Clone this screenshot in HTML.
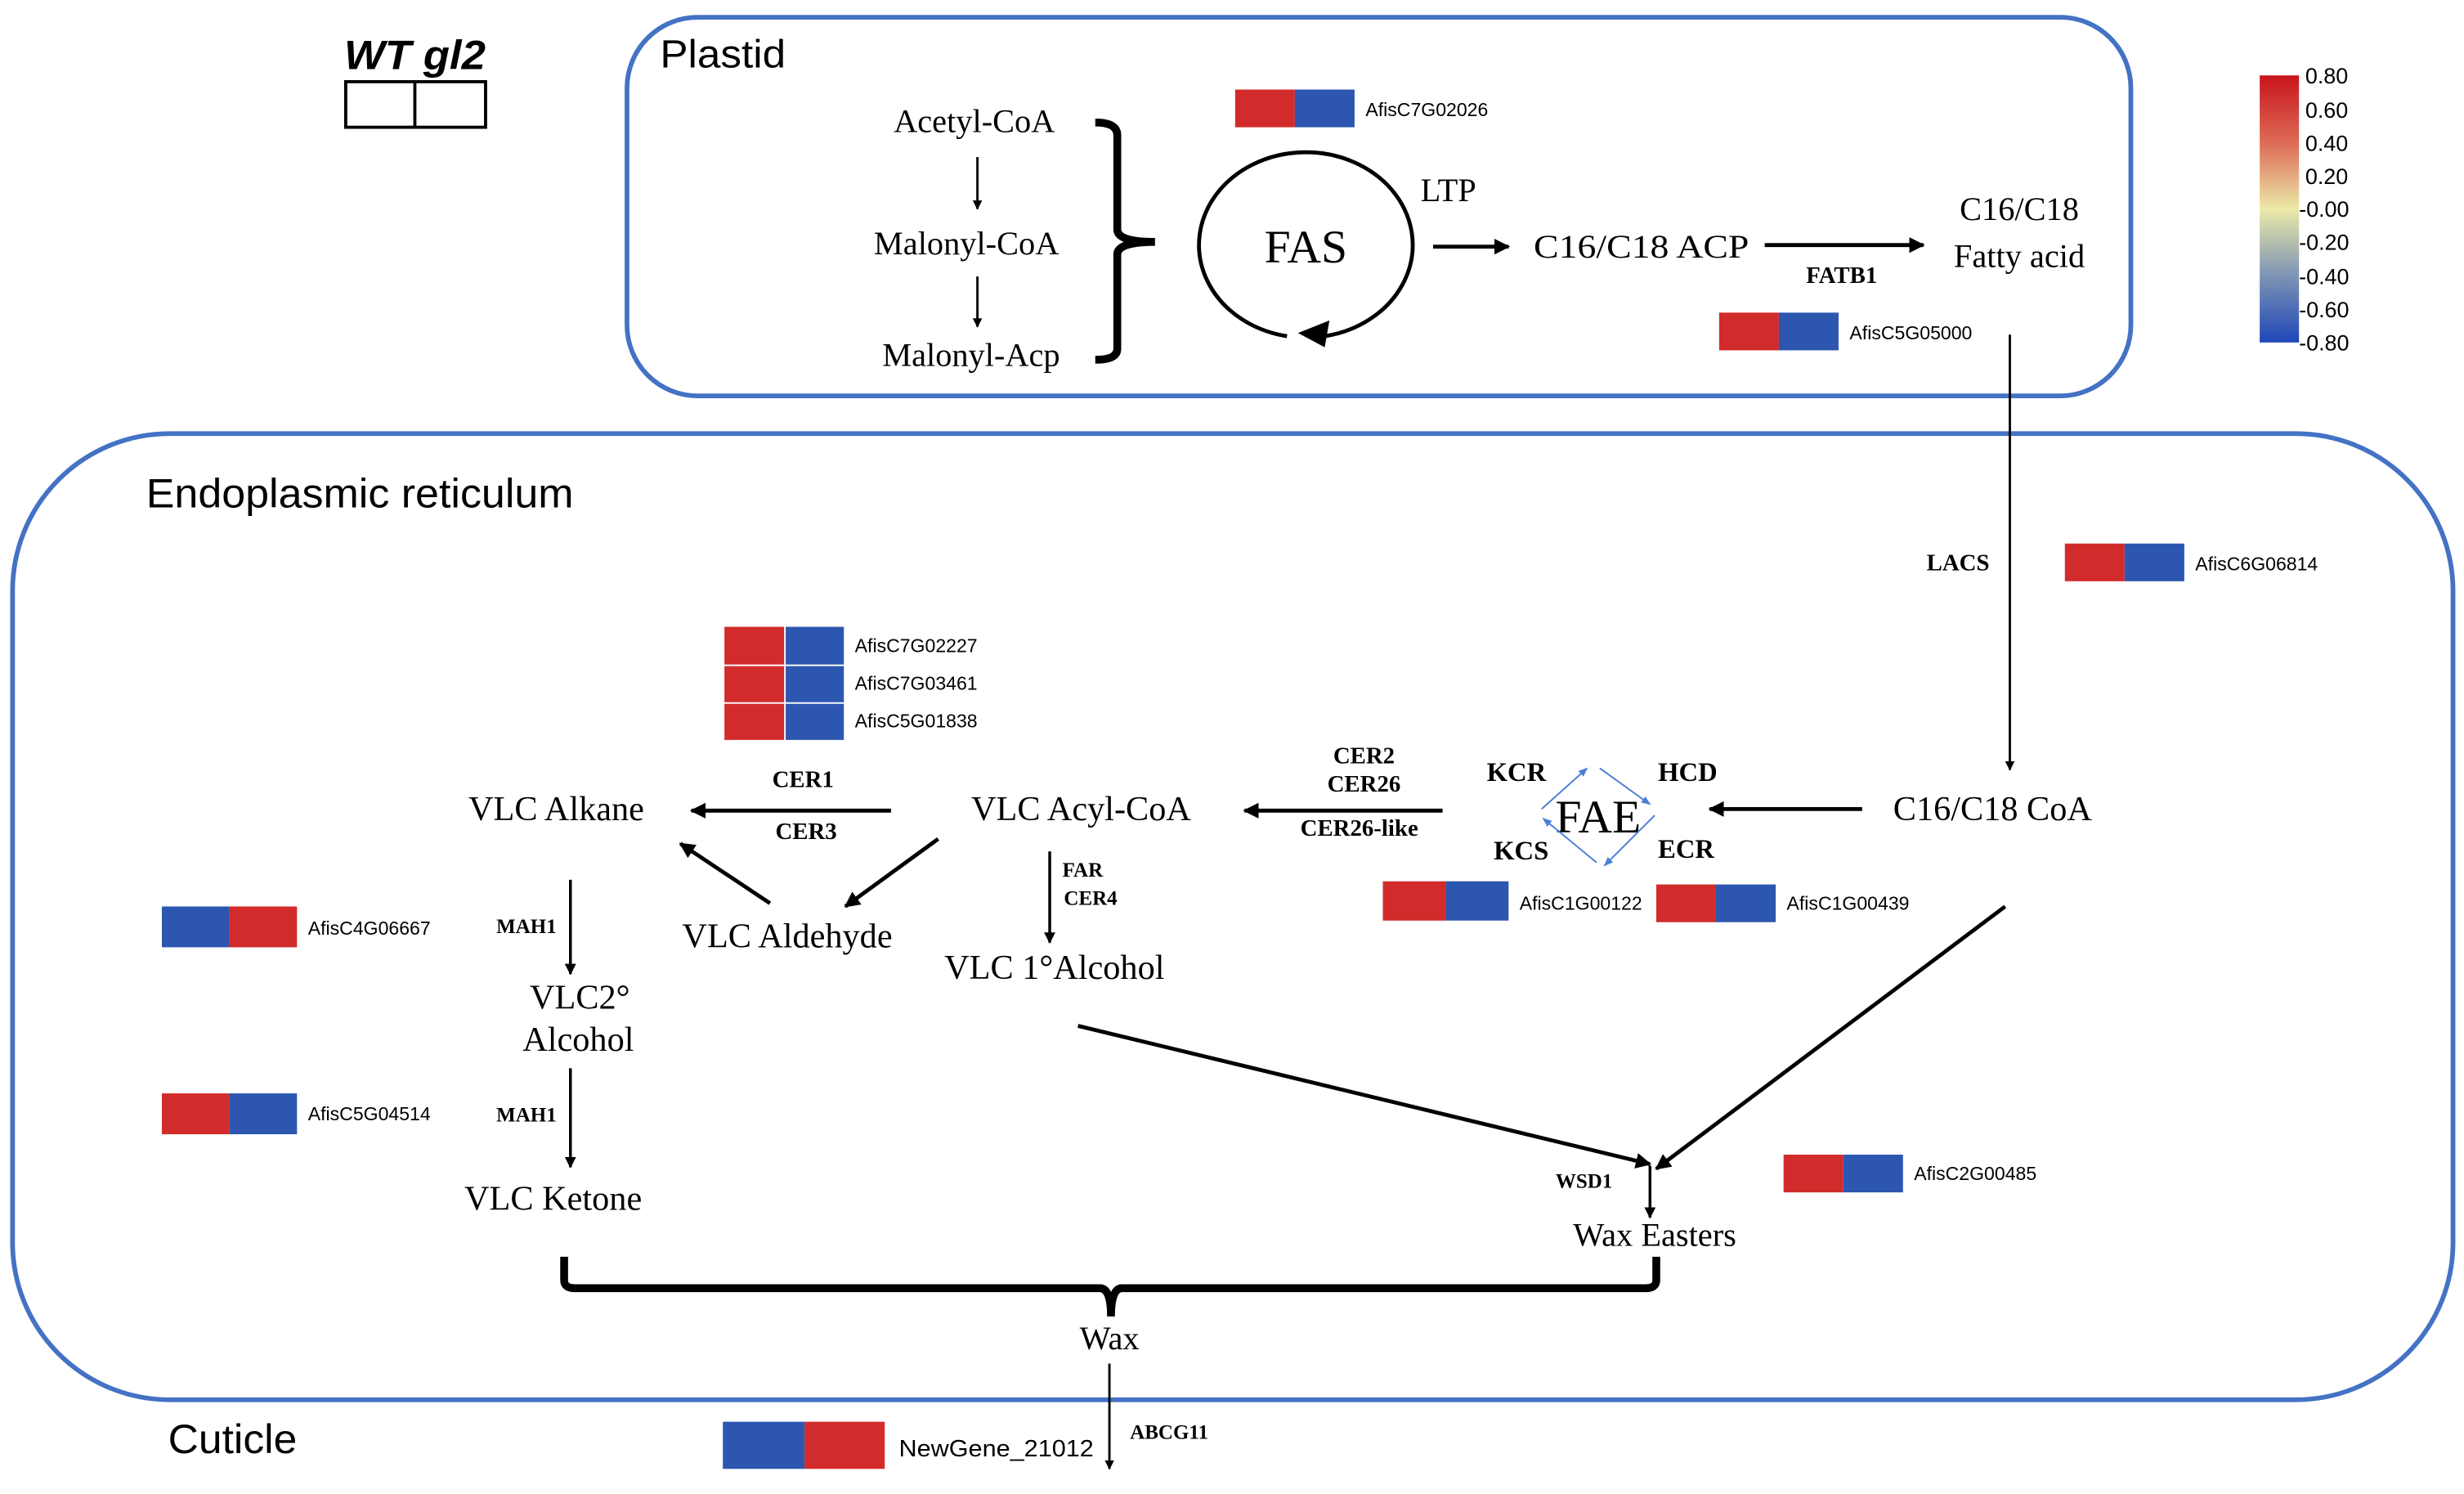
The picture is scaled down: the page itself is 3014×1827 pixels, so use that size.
<!DOCTYPE html>
<html><head><meta charset="utf-8"><style>
html,body{margin:0;padding:0;background:#fff}
svg{display:block}
.s{font-family:"Liberation Serif",serif;fill:#000}
.a{font-family:"Liberation Sans",sans-serif;fill:#000}
.b{font-family:"Liberation Serif",serif;font-weight:bold;fill:#000}
</style></head><body>
<svg width="3014" height="1827" viewBox="0 0 1568 951" preserveAspectRatio="none" xmlns="http://www.w3.org/2000/svg">
<defs>
<marker id="ar" viewBox="0 0 10 10" refX="9" refY="5" markerWidth="4" markerHeight="4" orient="auto"><path d="M0,0L10,5L0,10z" fill="#000"/></marker>
<marker id="ab" viewBox="0 0 10 10" refX="9" refY="5" markerWidth="6" markerHeight="6" orient="auto"><path d="M0,1L10,5L0,9z" fill="#4a7fd6"/></marker>
<linearGradient id="cb" x1="0" y1="0" x2="0" y2="1">
<stop offset="0" stop-color="#c8141c"/><stop offset="0.25" stop-color="#dd6a55"/><stop offset="0.5" stop-color="#ece9a8"/><stop offset="0.75" stop-color="#7d94b4"/><stop offset="1" stop-color="#1f46b8"/></linearGradient>
</defs>
<rect x="399" y="11" width="957" height="241" rx="45" fill="none" stroke="#4472c4" stroke-width="3"/>
<rect x="8" y="276" width="1553" height="615" rx="100" fill="none" stroke="#4472c4" stroke-width="3"/>
<text x="219" y="44" class="a" font-size="26" font-weight="bold" font-style="italic" textLength="90" lengthAdjust="spacingAndGlyphs">WT gl2</text>
<rect x="220" y="52" width="89" height="29" fill="none" stroke="#000" stroke-width="2"/>
<line x1="264" y1="52" x2="264" y2="81" stroke="#000" stroke-width="2"/>
<text x="420" y="43" class="a" font-size="25" textLength="80" lengthAdjust="spacingAndGlyphs">Plastid</text>
<text x="93" y="323" class="a" font-size="26" textLength="272" lengthAdjust="spacingAndGlyphs">Endoplasmic reticulum</text>
<text x="107" y="925" class="a" font-size="26" textLength="82" lengthAdjust="spacingAndGlyphs">Cuticle</text>
<text x="620" y="84" class="s" font-size="21" text-anchor="middle">Acetyl-CoA</text>
<text x="615" y="162" class="s" font-size="21" text-anchor="middle">Malonyl-CoA</text>
<text x="618" y="233" class="s" font-size="21" text-anchor="middle">Malonyl-Acp</text>
<line x1="622" y1="100" x2="622" y2="133" stroke="#000" stroke-width="1.5" marker-end="url(#ar)"/>
<line x1="622" y1="176" x2="622" y2="208" stroke="#000" stroke-width="1.5" marker-end="url(#ar)"/>
<path d="M697,78 Q711,78 711,86 L711,146 Q711,154 735,154 Q711,154 711,162 L711,222 Q711,229 697,229" fill="none" stroke="#000" stroke-width="5"/>
<rect x="786" y="57" width="38" height="24" fill="#d22b2b"/><rect x="824" y="57" width="38" height="24" fill="#2c56b0"/>
<text x="869" y="74" class="a" font-size="12">AfisC7G02026</text>
<path d="M819,214 A68,59 0 1 1 843,214" fill="none" stroke="#000" stroke-width="2.5"/>
<path d="M846,204 L826,212 L843,221 z" fill="#000"/>
<text x="831" y="167" class="s" font-size="30" text-anchor="middle">FAS</text>
<text x="904" y="128" class="s" font-size="21">LTP</text>
<line x1="912" y1="157" x2="960" y2="157" stroke="#000" stroke-width="2.5" marker-end="url(#ar)"/>
<text x="976" y="164" class="s" font-size="21" textLength="137" lengthAdjust="spacingAndGlyphs">C16/C18 ACP</text>
<line x1="1123" y1="156" x2="1224" y2="156" stroke="#000" stroke-width="2.5" marker-end="url(#ar)"/>
<text x="1172" y="180" class="b" font-size="15" text-anchor="middle">FATB1</text>
<text x="1285" y="140" class="s" font-size="21" text-anchor="middle">C16/C18</text>
<text x="1285" y="170" class="s" font-size="21" text-anchor="middle">Fatty acid</text>
<rect x="1094" y="199" width="38" height="24" fill="#d22b2b"/><rect x="1132" y="199" width="38" height="24" fill="#2c56b0"/>
<text x="1177" y="216" class="a" font-size="12">AfisC5G05000</text>
<rect x="1438" y="48" width="25" height="170" fill="url(#cb)"/>
<g class="a" font-size="14">
<text x="1467" y="53">0.80</text><text x="1467" y="75">0.60</text><text x="1467" y="96">0.40</text><text x="1467" y="117">0.20</text><text x="1463" y="138">-0.00</text><text x="1463" y="159">-0.20</text><text x="1463" y="181">-0.40</text><text x="1463" y="202">-0.60</text><text x="1463" y="223">-0.80</text>
</g>
<line x1="1279" y1="213" x2="1279" y2="490" stroke="#000" stroke-width="1.5" marker-end="url(#ar)"/>
<text x="1246" y="363" class="b" font-size="15" text-anchor="middle">LACS</text>
<rect x="1314" y="346" width="38" height="24" fill="#d22b2b"/><rect x="1352" y="346" width="38" height="24" fill="#2c56b0"/>
<text x="1397" y="363" class="a" font-size="12">AfisC6G06814</text>
<g>
<rect x="461" y="399" width="38" height="24" fill="#d22b2b"/><rect x="500" y="399" width="37" height="24" fill="#2c56b0"/>
<rect x="461" y="424" width="38" height="23" fill="#d22b2b"/><rect x="500" y="424" width="37" height="23" fill="#2c56b0"/>
<rect x="461" y="448" width="38" height="23" fill="#d22b2b"/><rect x="500" y="448" width="37" height="23" fill="#2c56b0"/>
</g>
<g class="a" font-size="12"><text x="544" y="415">AfisC7G02227</text><text x="544" y="439">AfisC7G03461</text><text x="544" y="463">AfisC5G01838</text></g>
<text x="354" y="522" class="s" font-size="22" text-anchor="middle">VLC Alkane</text>
<line x1="567" y1="516" x2="440" y2="516" stroke="#000" stroke-width="2.5" marker-end="url(#ar)"/>
<text x="511" y="501" class="b" font-size="15" text-anchor="middle">CER1</text>
<text x="513" y="534" class="b" font-size="15" text-anchor="middle">CER3</text>
<text x="688" y="522" class="s" font-size="22" text-anchor="middle">VLC Acyl-CoA</text>
<line x1="918" y1="516" x2="792" y2="516" stroke="#000" stroke-width="2.5" marker-end="url(#ar)"/>
<g class="b" font-size="15" text-anchor="middle"><text x="868" y="486">CER2</text><text x="868" y="504">CER26</text><text x="865" y="532">CER26-like</text></g>
<text x="1017" y="530" class="s" font-size="30" text-anchor="middle">FAE</text>
<g class="b" font-size="17" text-anchor="middle"><text x="965" y="497">KCR</text><text x="1074" y="497">HCD</text><text x="968" y="547">KCS</text><text x="1073" y="546">ECR</text></g>
<g stroke="#4a7fd6" stroke-width="1" fill="none">
<line x1="981" y1="515" x2="1010" y2="489" marker-end="url(#ab)"/>
<line x1="1018" y1="489" x2="1050" y2="512" marker-end="url(#ab)"/>
<line x1="1053" y1="519" x2="1021" y2="551" marker-end="url(#ab)"/>
<line x1="1016" y1="549" x2="982" y2="521" marker-end="url(#ab)"/>
</g>
<line x1="1185" y1="515" x2="1088" y2="515" stroke="#000" stroke-width="2.5" marker-end="url(#ar)"/>
<text x="1268" y="522" class="s" font-size="22" text-anchor="middle">C16/C18 CoA</text>
<rect x="880" y="561" width="40" height="25" fill="#d22b2b"/><rect x="920" y="561" width="40" height="25" fill="#2c56b0"/>
<text x="967" y="579" class="a" font-size="12">AfisC1G00122</text>
<rect x="1054" y="563" width="38" height="24" fill="#d22b2b"/><rect x="1092" y="563" width="38" height="24" fill="#2c56b0"/>
<text x="1137" y="579" class="a" font-size="12">AfisC1G00439</text>
<line x1="1276" y1="577" x2="1054" y2="744" stroke="#000" stroke-width="2.5" marker-end="url(#ar)"/>
<line x1="686" y1="653" x2="1050" y2="741" stroke="#000" stroke-width="2.5" marker-end="url(#ar)"/>
<line x1="1050" y1="742" x2="1050" y2="775" stroke="#000" stroke-width="1.8" marker-end="url(#ar)"/>
<text x="1008" y="756" class="b" font-size="13" text-anchor="middle">WSD1</text>
<text x="1053" y="793" class="s" font-size="21" text-anchor="middle">Wax Easters</text>
<rect x="1135" y="735" width="38" height="24" fill="#d22b2b"/><rect x="1173" y="735" width="38" height="24" fill="#2c56b0"/>
<text x="1218" y="751" class="a" font-size="12">AfisC2G00485</text>
<text x="501" y="603" class="s" font-size="22" text-anchor="middle">VLC Aldehyde</text>
<text x="671" y="623" class="s" font-size="22" text-anchor="middle">VLC 1°Alcohol</text>
<line x1="597" y1="534" x2="538" y2="577" stroke="#000" stroke-width="2.5" marker-end="url(#ar)"/>
<line x1="490" y1="575" x2="433" y2="537" stroke="#000" stroke-width="2.5" marker-end="url(#ar)"/>
<text x="689" y="558" class="b" font-size="13" text-anchor="middle">FAR</text>
<text x="694" y="576" class="b" font-size="13" text-anchor="middle">CER4</text>
<line x1="668" y1="542" x2="668" y2="600" stroke="#000" stroke-width="1.8" marker-end="url(#ar)"/>
<line x1="363" y1="560" x2="363" y2="620" stroke="#000" stroke-width="1.8" marker-end="url(#ar)"/>
<text x="335" y="594" class="b" font-size="13" text-anchor="middle">MAH1</text>
<text x="369" y="642" class="s" font-size="22" text-anchor="middle">VLC2°</text>
<text x="368" y="669" class="s" font-size="22" text-anchor="middle">Alcohol</text>
<rect x="103" y="577" width="43" height="26" fill="#2c56b0"/><rect x="146" y="577" width="43" height="26" fill="#d22b2b"/>
<text x="196" y="595" class="a" font-size="12">AfisC4G06667</text>
<rect x="103" y="696" width="43" height="26" fill="#d22b2b"/><rect x="146" y="696" width="43" height="26" fill="#2c56b0"/>
<text x="196" y="713" class="a" font-size="12">AfisC5G04514</text>
<text x="335" y="714" class="b" font-size="13" text-anchor="middle">MAH1</text>
<line x1="363" y1="680" x2="363" y2="743" stroke="#000" stroke-width="1.8" marker-end="url(#ar)"/>
<text x="352" y="770" class="s" font-size="22" text-anchor="middle">VLC Ketone</text>
<path d="M359,800 L359,815 Q359,820 366,820 L700,820 Q707,820 707,838 Q707,820 714,820 L1047,820 Q1054,820 1054,815 L1054,800" fill="none" stroke="#000" stroke-width="5"/>
<text x="706" y="859" class="s" font-size="21" text-anchor="middle">Wax</text>
<line x1="706" y1="868" x2="706" y2="935" stroke="#000" stroke-width="1.5" marker-end="url(#ar)"/>
<text x="744" y="916" class="b" font-size="13" text-anchor="middle">ABCG11</text>
<rect x="460" y="905" width="52" height="30" fill="#2c56b0"/><rect x="512" y="905" width="51" height="30" fill="#d22b2b"/>
<text x="572" y="927" class="a" font-size="15" textLength="124" lengthAdjust="spacingAndGlyphs">NewGene_21012</text>
</svg>
</body></html>
